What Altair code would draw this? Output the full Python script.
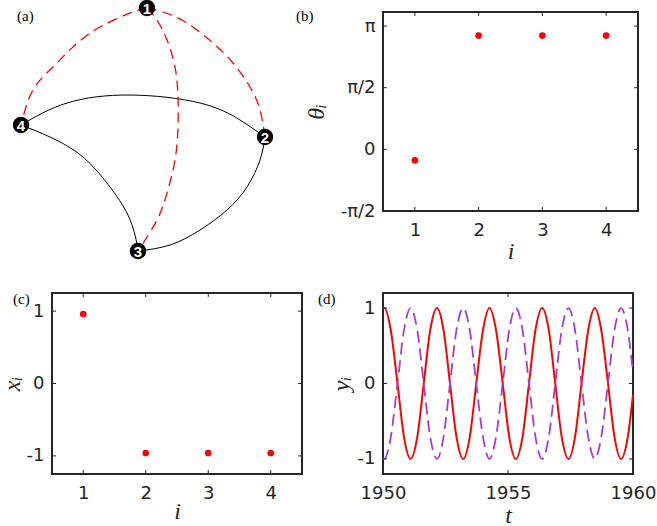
import altair as alt
import pandas as pd

# ---------------- data ----------------
# (a) signed network, node layout in drawing coordinates
node_ids = ["1", "2", "3", "4"]
node_x = [147, 265, 138, 21]
node_y = [8, 137, 251, 125]

edge_names = ["1-4", "1-2", "1-3", "4-2", "4-3", "2-3"]
edge_sign = ["neg", "neg", "neg", "pos", "pos", "pos"]
edge_x = [
    [147, 133, 100, 73, 53, 33, 21],
    [147, 163, 187, 213, 233, 250, 260, 265],
    [147, 157, 167, 175, 178, 178, 175, 167, 157, 138],
    [21, 67, 130, 200, 240, 265],
    [21, 50, 83, 110, 127, 135, 138],
    [265, 260, 247, 227, 200, 170, 138],
]
edge_y = [
    [8, 12, 27, 47, 67, 90, 125],
    [8, 12, 23, 43, 63, 87, 110, 137],
    [8, 20, 40, 67, 97, 127, 160, 193, 220, 251],
    [125, 103, 95, 103, 120, 137],
    [125, 137, 157, 187, 213, 235, 251],
    [137, 160, 187, 210, 230, 245, 251],
]

# (b) phases
node_index = [1, 2, 3, 4]
theta_i = [-0.28, 2.90, 2.90, 2.90]
theta_ticks = [-1.5708, 0.0, 1.5708, 3.1416]
theta_tick_labels = ["-π/2", "0", "π/2", "π"]

# (c) states
x_i = [0.96, -0.96, -0.96, -0.96]
unit_ticks = [-1, 0, 1]
unit_tick_labels = ["-1", "0", "1"]

# (d) time series
year_ticks = [1950, 1955, 1960]
t_knots = [1950.00, 1950.05, 1950.31, 1950.58, 1950.84, 1951.10, 1951.37, 1951.63,
           1951.89, 1952.16, 1952.42, 1952.68, 1952.94, 1953.21, 1953.47, 1953.73,
           1954.00, 1954.26, 1954.52, 1954.79, 1955.05, 1955.31, 1955.58, 1955.84,
           1956.10, 1956.37, 1956.63, 1956.89, 1957.15, 1957.42, 1957.68, 1957.94,
           1958.21, 1958.47, 1958.73, 1959.00, 1959.26, 1959.52, 1959.79, 1960.00]
y_red = [0.99,
         1, 0.71, 0, -0.71, -1, -0.71, 0, 0.71,
         1, 0.71, 0, -0.71, -1, -0.71, 0, 0.71,
         1, 0.71, 0, -0.71, -1, -0.71, 0, 0.71,
         1, 0.71, 0, -0.71, -1, -0.71, 0, 0.71,
         1, 0.71, 0, -0.71, -1, -0.71,
         -0.15]
y_purple = [-0.99,
            -1, -0.71, 0, 0.71, 1, 0.71, 0, -0.71,
            -1, -0.71, 0, 0.71, 1, 0.71, 0, -0.71,
            -1, -0.71, 0, 0.71, 1, 0.71, 0, -0.71,
            -1, -0.71, 0, 0.71, 1, 0.71, 0, -0.71,
            -1, -0.71, 0, 0.71, 1, 0.71,
            0.15]

panel_labels = ["(a)", "(b)", "(c)", "(d)"]

# ---------------- style ----------------
FRAME = "#262626"
RED = "#FF0000"
PURPLE = "#A83CCC"
A_W, A_H = 245, 199
B_W, B_H = 255, 199
C_W, C_H = 250, 181
D_W, D_H = 250, 181


def label_expr(values, labels):
    return " : ".join(
        f"abs(datum.value - ({v})) < 0.01 ? '{l}'" for v, l in zip(values, labels)
    ) + " : ''"


def panel_label(text, dx, dy):
    return alt.Chart(pd.DataFrame({"lab": [text]})).mark_text(
        align="left", baseline="top", font="Liberation Serif", fontSize=15, color="black"
    ).encode(x=alt.value(dx), y=alt.value(dy), text="lab:N")


def inward_ticks(xvals, yvals, xscale, yscale, xaxis, yaxis, w, h, L=4):
    tx = pd.DataFrame({"tx": xvals})
    ty = pd.DataFrame({"ty": yvals})
    kw = dict(color=FRAME, strokeWidth=1)
    X = alt.X("tx:Q", scale=xscale, axis=xaxis)
    Y = alt.Y("ty:Q", scale=yscale, axis=yaxis)
    return [
        alt.Chart(tx).mark_rule(**kw).encode(x=X, y=alt.value(h - L), y2=alt.value(h)),
        alt.Chart(tx).mark_rule(**kw).encode(x=X, y=alt.value(0), y2=alt.value(L)),
        alt.Chart(ty).mark_rule(**kw).encode(y=Y, x=alt.value(0), x2=alt.value(L)),
        alt.Chart(ty).mark_rule(**kw).encode(y=Y, x=alt.value(w - L), x2=alt.value(w)),
    ]


# ---------------- (a) ----------------
rows = []
for name, sgn, xs, ys in zip(edge_names, edge_sign, edge_x, edge_y):
    for k, (gx, gy) in enumerate(zip(xs, ys)):
        rows.append({"edge": name, "sign": sgn, "seq": k, "gx": gx, "gy": gy})
edges = pd.DataFrame(rows)
nodes = pd.DataFrame({"id": node_ids, "gx": node_x, "gy": node_y})

gxs = alt.Scale(domain=[52, 52 + A_W], nice=False, zero=False)
gys = alt.Scale(domain=[12, 12 + A_H], reverse=True, nice=False, zero=False)
GX = alt.X("gx:Q", scale=gxs, axis=None)
GY = alt.Y("gy:Q", scale=gys, axis=None)

pos_edges = alt.Chart(edges).transform_filter("datum.sign == 'pos'").mark_line(
    interpolate="natural", color="black", strokeWidth=1
).encode(x=GX, y=GY, detail="edge:N", order="seq:Q")
neg_edges = alt.Chart(edges).transform_filter("datum.sign == 'neg'").mark_line(
    interpolate="natural", color=RED, strokeWidth=1.3, strokeDash=[10, 6]
).encode(x=GX, y=GY, detail="edge:N", order="seq:Q")
node_marks = alt.Chart(nodes).mark_circle(size=270, color="black", opacity=1).encode(x=GX, y=GY)
node_text = alt.Chart(nodes).mark_text(
    color="white", font="Liberation Sans", fontWeight="bold", fontSize=15, baseline="middle", dy=1
).encode(x=GX, y=GY, text="id:N")

panel_a = alt.layer(
    pos_edges, neg_edges, node_marks, node_text, panel_label(panel_labels[0], -35, -3)
).properties(width=A_W, height=A_H, view=alt.ViewBackground(stroke="transparent"))

# ---------------- (b) ----------------
df_b = pd.DataFrame({"i": node_index, "theta": theta_i})
xs_i = alt.Scale(domain=[0.5, 4.5], nice=False, zero=False)
ys_b = alt.Scale(domain=[-1.5708, 3.5], nice=False, zero=False)
ax_i_b = alt.Axis(values=node_index, format="d", title="i", titlePadding=0)
ax_theta = alt.Axis(values=theta_ticks, labelExpr=label_expr(theta_ticks, theta_tick_labels),
                    title="θᵢ", titlePadding=12)
pts_b = alt.Chart(df_b).mark_circle(size=45, color=RED, opacity=1).encode(
    x=alt.X("i:Q", scale=xs_i, axis=ax_i_b),
    y=alt.Y("theta:Q", scale=ys_b, axis=ax_theta),
)
panel_b = alt.layer(
    pts_b, *inward_ticks(node_index, theta_ticks, xs_i, ys_b, ax_i_b, ax_theta, B_W, B_H),
    panel_label(panel_labels[1], -87, -3)
).properties(width=B_W, height=B_H)

# ---------------- (c) ----------------
df_c = pd.DataFrame({"i": node_index, "x": x_i})
ys_c = alt.Scale(domain=[-1.25, 1.25], nice=False, zero=False)
ax_i_c = alt.Axis(values=node_index, format="d", title="i", titlePadding=-3)
ax_x = alt.Axis(values=unit_ticks, labelExpr=label_expr(unit_ticks, unit_tick_labels),
                title="xᵢ", titlePadding=2)
pts_c = alt.Chart(df_c).mark_circle(size=45, color=RED, opacity=1).encode(
    x=alt.X("i:Q", scale=xs_i, axis=ax_i_c),
    y=alt.Y("x:Q", scale=ys_c, axis=ax_x),
)
panel_c = alt.layer(
    pts_c, *inward_ticks(node_index, unit_ticks, xs_i, ys_c, ax_i_c, ax_x, C_W, C_H),
    panel_label(panel_labels[2], -39, -1)
).properties(width=C_W, height=C_H)

# ---------------- (d) ----------------
df_d = pd.DataFrame({"t": t_knots, "red": y_red, "purple": y_purple})
xs_t = alt.Scale(domain=[1950, 1960], nice=False, zero=False)
ys_d = alt.Scale(domain=[-1.2, 1.2], nice=False, zero=False)
ax_t = alt.Axis(values=year_ticks, format="d", title="t", titlePadding=1)
ax_y = alt.Axis(values=unit_ticks, labelExpr=label_expr(unit_ticks, unit_tick_labels),
                title="yᵢ", titlePadding=4)
line_red = alt.Chart(df_d).mark_line(interpolate="monotone", color=RED, strokeWidth=2).encode(
    x=alt.X("t:Q", scale=xs_t, axis=ax_t),
    y=alt.Y("red:Q", scale=ys_d, axis=ax_y),
)
line_purple = alt.Chart(df_d).mark_line(
    interpolate="monotone", color=PURPLE, strokeWidth=1.8, strokeDash=[12, 6]
).encode(
    x=alt.X("t:Q", scale=xs_t, axis=ax_t),
    y=alt.Y("purple:Q", scale=ys_d, axis=ax_y),
)
panel_d = alt.layer(
    line_red, line_purple, *inward_ticks(year_ticks, unit_ticks, xs_t, ys_d, ax_t, ax_y, D_W, D_H),
    panel_label(panel_labels[3], -65, -1)
).properties(width=D_W, height=D_H)

# ---------------- layout ----------------
chart = alt.concat(panel_a, panel_b, panel_c, panel_d, columns=2).properties(
    spacing={"row": 82, "column": 81},
    bounds="flush",
    align="none",
    padding={"left": 52, "top": 12, "right": 605, "bottom": 514},
    autosize=alt.AutoSizeParams(type="none"),
).configure_view(
    stroke=FRAME, strokeWidth=2
).configure_axis(
    grid=False, ticks=False, domain=False, tickSize=0,
    labelFont="DejaVu Sans", labelFontSize=18, labelColor=FRAME,
    labelFlush=False, labelOverlap=False, minExtent=0,
    titleFont="Liberation Serif", titleFontStyle="italic", titleFontWeight="normal",
    titleFontSize=24, titleColor=FRAME,
).configure_axisX(
    labelPadding=10
).configure_axisY(
    labelPadding=8
)

chart.save("out.html", embed_options={"renderer": "svg", "actions": False})
